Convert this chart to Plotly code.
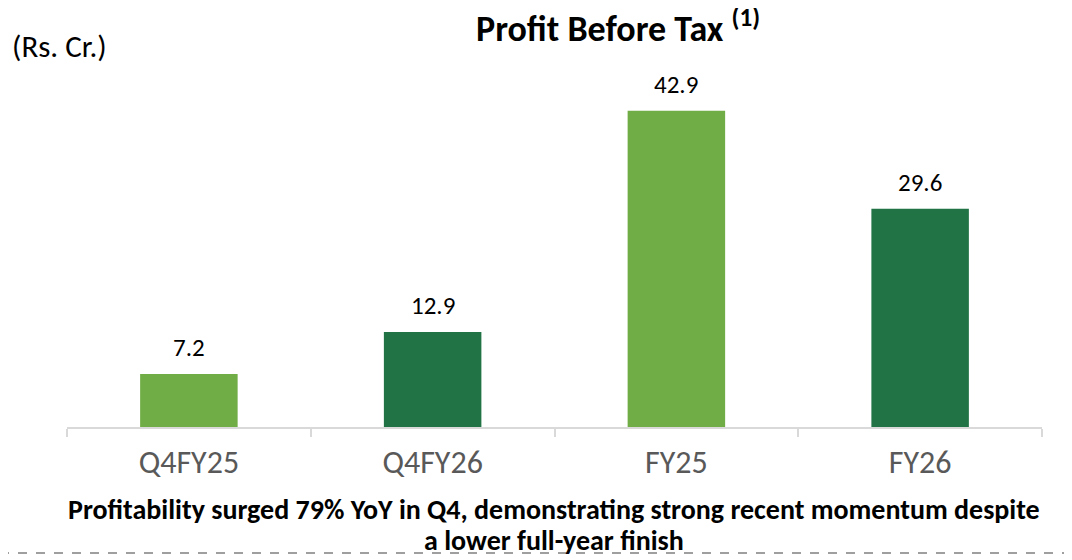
import plotly.graph_objects as go

categories = ["Q4FY25", "Q4FY26", "FY25", "FY26"]
values = [7.2, 12.9, 42.9, 29.6]
value_labels = ["7.2", "12.9", "42.9", "29.6"]
bar_colors = ["#70AD47", "#217346", "#70AD47", "#217346"]

title_text = "<b>Profit Before Tax</b> <b><sup>(1)</sup></b>"
unit_text = "(Rs. Cr.)"
caption_lines = [
    "<b>Profitability surged 79% YoY in Q4, demonstrating strong recent momentum despite</b>",
    "<b>a lower full-year finish</b>",
]

FONT = "Carlito, Calibri, Lato, sans-serif"

# page body has an 8px margin; figure coordinates = screen coordinates - 8
OFF = 8
W, H = 1072 - OFF, 560 - OFF
L, R, T, B = 67 - OFF, 1042 - OFF, 60 - OFF, 427 - OFF
PH = B - T


def py(y):
    return (B - (y - OFF)) / PH


def px(x):
    return ((x - OFF) - L) / (R - L)


fig = go.Figure()
fig.add_trace(go.Bar(
    x=categories, y=values, marker=dict(color=bar_colors, line=dict(width=0)),
    width=0.4, cliponaxis=False, hoverinfo="x+y",
))

for c, v, lab in zip(categories, values, value_labels):
    fig.add_annotation(x=c, y=v, text=lab, showarrow=False, xanchor="center",
                       yanchor="middle", yshift=26,
                       font=dict(size=25, color="#000000", family=FONT))

fig.update_layout(
    width=W, height=H,
    margin=dict(l=L, r=W - R, t=T, b=H - B),
    paper_bgcolor="white", plot_bgcolor="white",
    showlegend=False,
    font=dict(family=FONT),
    xaxis=dict(showline=True, linecolor="#D9D9D9", linewidth=1.5,
               ticks="outside", tickcolor="#D9D9D9", ticklen=8, tickwidth=1.5,
               tickson="boundaries", ticklabelstandoff=6,
               tickfont=dict(size=32, color="#595959", family=FONT),
               showgrid=False),
    yaxis=dict(range=[0, PH / 7.37], visible=False, showgrid=False),
)

fig.add_annotation(text=title_text, xref="paper", yref="paper",
                   x=px(618), y=py(27),
                   xanchor="center", yanchor="middle", showarrow=False,
                   font=dict(size=36, color="#000000", family=FONT))
fig.add_annotation(text=unit_text, xref="paper", yref="paper",
                   x=px(10), y=py(46),
                   xanchor="left", yanchor="middle", showarrow=False,
                   font=dict(size=31, color="#000000", family=FONT))
for line, yc in zip(caption_lines, [509, 540]):
    fig.add_annotation(text=line, xref="paper", yref="paper",
                       x=px(554), y=py(yc),
                       xanchor="center", yanchor="middle", showarrow=False,
                       font=dict(size=28, color="#000000", family=FONT))
fig.add_shape(type="line", xref="paper", yref="paper",
              x0=px(0), x1=px(1072), y0=py(553), y1=py(553),
              line=dict(color="#404040", width=1.2, dash="dash"))

fig.write_html("out.html")
